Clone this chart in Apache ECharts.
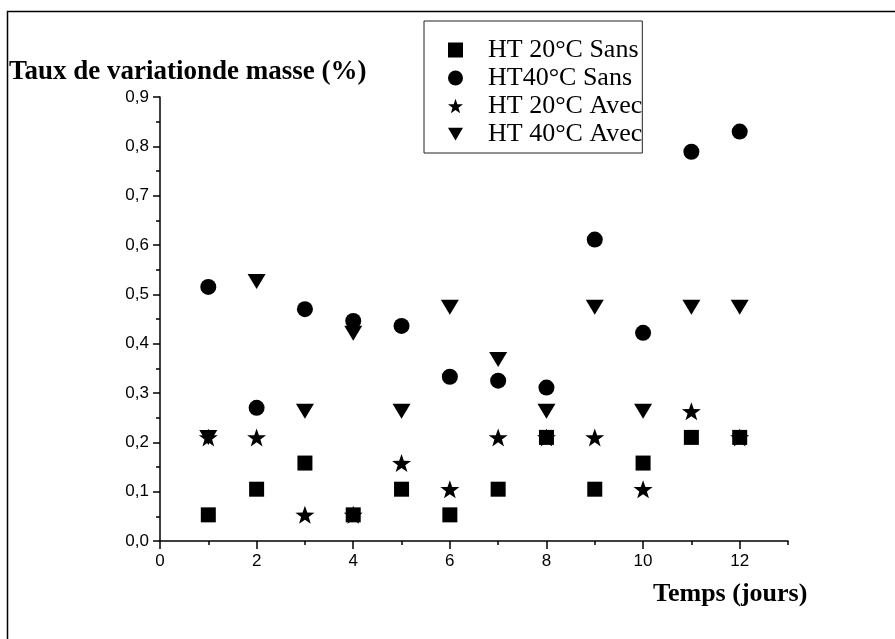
<!DOCTYPE html>
<html>
<head>
<meta charset="utf-8">
<script src="https://cdn.jsdelivr.net/npm/echarts@6/dist/echarts.min.js"></script>
<style>
html,body{margin:0;padding:0;background:#fff;}
#chart{width:895px;height:639px;}
</style>
</head>
<body>
<div id="chart"></div>
<script>
const days = [1, 2, 3, 4, 5, 6, 7, 8, 9, 10, 11, 12];
const seriesNames = ['HT 20°C Sans', 'HT40°C Sans', 'HT 20°C Avec', 'HT 40°C Avec'];
const ht20Sans = [0.053, 0.105, 0.158, 0.053, 0.105, 0.053, 0.105, 0.21, 0.105, 0.158, 0.21, 0.21];
const ht40Sans = [0.515, 0.27, 0.47, 0.446, 0.436, 0.333, 0.325, 0.311, 0.611, 0.422, 0.789, 0.83];
const ht20Avec = [0.21, 0.21, 0.053, 0.053, 0.158, 0.105, 0.21, 0.21, 0.21, 0.105, 0.263, 0.21];
const ht40Avec = [0.21, 0.526, 0.263, 0.421, 0.263, 0.474, 0.368, 0.263, 0.474, 0.263, 0.474, 0.474];
const xTickLabels = [0, 2, 4, 6, 8, 10, 12];

const serif = "'Liberation Serif', 'Times New Roman', serif";
const sans = "'Liberation Sans', Arial, sans-serif";
const STAR = 'path://M10,0L12.35,6.76L19.51,6.91L13.8,11.24L15.88,18.09L10,14L4.12,18.09L6.2,11.24L0.49,6.91L7.65,6.76Z';
const TRI_DOWN = 'path://M0,0L20,0L10,17Z';

function pts(vals) { return days.map((d, i) => [d, vals[i]]); }

const chart = echarts.init(document.getElementById('chart'), null, {renderer: 'canvas'});
chart.setOption({
  animation: false,
  backgroundColor: '#fff',
  grid: {left: 160, right: 107, top: 97, bottom: 98, outerBoundsMode: 'none'},
  xAxis: [{
    type: 'value', min: 0, max: 13, interval: 1,
    axisLine: {show: true, onZero: false, lineStyle: {color: '#000', width: 1.5}},
    axisTick: {show: true, inside: false, length: 4, lineStyle: {color: '#000', width: 1.5}},
    axisLabel: {customValues: xTickLabels, color: '#000', fontFamily: sans, fontSize: 17, margin: 12},
    splitLine: {show: false}
  }, {
    type: 'value', min: 0, max: 13, position: 'bottom',
    axisLine: {show: false},
    axisTick: {show: true, customValues: xTickLabels, length: 8, lineStyle: {color: '#000', width: 1.5}},
    axisLabel: {show: false},
    splitLine: {show: false}
  }],
  yAxis: {
    type: 'value', min: 0, max: 0.9, interval: 0.1,
    axisLine: {show: true, lineStyle: {color: '#000', width: 1.5}},
    axisTick: {show: true, length: 7, lineStyle: {color: '#000', width: 1.5}},
    minorTick: {show: true, splitNumber: 2, length: 4, lineStyle: {color: '#000', width: 1.5}},
    axisLabel: {color: '#000', fontFamily: sans, fontSize: 17, margin: 11,
      formatter: v => v.toFixed(1).replace('.', ',')},
    splitLine: {show: false}
  },
  legend: {
    orient: 'vertical', left: 424, top: 21,
    data: seriesNames,
    borderColor: '#222', borderWidth: 1, borderRadius: 0,
    padding: [16, 0, 6, 24],
    itemWidth: 15, itemHeight: 15, itemGap: 2,
    textStyle: {fontFamily: serif, fontSize: 26, color: '#000', padding: [0, 0, 0, 20]}
  },
  graphic: [
    {type: 'rect', left: 5, top: 9, silent: true,
      shape: {width: 1000, height: 1000}, style: {fill: 'none', stroke: '#000', lineWidth: 1.5}},
    {type: 'text', left: 9, top: 59, silent: true,
      style: {text: 'Taux de variationde masse (%)', font: 'bold 27px ' + serif, fill: '#000'}},
    {type: 'text', left: 653, top: 581, silent: true,
      style: {text: 'Temps (jours)', font: 'bold 26px ' + serif, fill: '#000'}}
  ],
  series: [
    {name: seriesNames[0], type: 'scatter', symbol: 'rect', symbolSize: 15, z: 5,
      itemStyle: {color: '#000', opacity: 1}, data: pts(ht20Sans)},
    {name: seriesNames[1], type: 'scatter', symbol: 'circle', symbolSize: 16, z: 3,
      itemStyle: {color: '#000', opacity: 1}, data: pts(ht40Sans)},
    {name: seriesNames[2], type: 'scatter', symbol: STAR, symbolSize: [19, 18], z: 2,
      itemStyle: {color: '#000', opacity: 1}, data: pts(ht20Avec)},
    {name: seriesNames[3], type: 'scatter', symbol: TRI_DOWN, symbolSize: [18, 15], z: 4,
      itemStyle: {color: '#000', opacity: 1}, data: pts(ht40Avec)}
  ]
});
</script>
</body>
</html>
